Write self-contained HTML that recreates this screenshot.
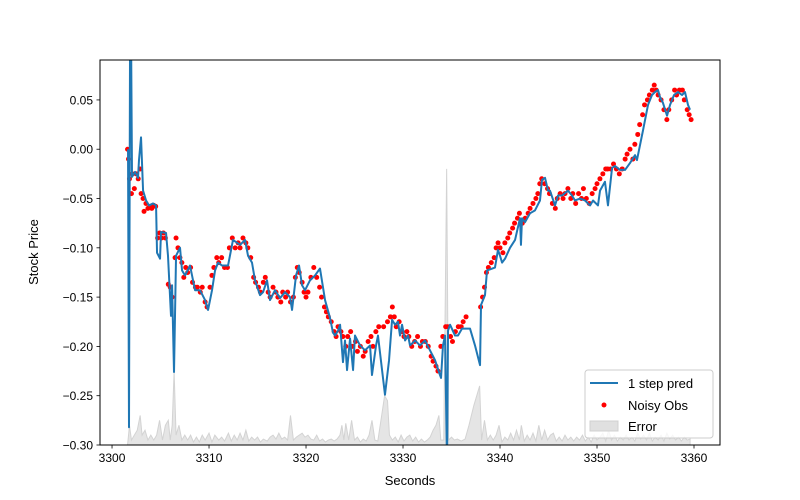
<!DOCTYPE html>
<html><head><meta charset="utf-8"><style>
body{margin:0;background:#fff;}
svg{display:block;font-family:"Liberation Sans","DejaVu Sans",sans-serif;}
</style></head><body>
<svg id="chart" width="800" height="500" viewBox="0 0 800 500">
<defs><clipPath id="clip"><rect x="100" y="60" width="620" height="385"/></clipPath></defs>
<rect x="0" y="0" width="800" height="500" fill="#fff"/>
<g id="plot" clip-path="url(#clip)"></g>
<rect x="100" y="60" width="620" height="385" fill="none" stroke="#000" stroke-width="1"/>
<g id="axes"></g>
<text x="410" y="485" font-size="13" text-anchor="middle">Seconds</text>
<text x="38" y="252" font-size="13" text-anchor="middle" transform="rotate(-90 38 252)">Stock Price</text>
<g>
<rect x="585" y="370" width="128" height="68" rx="3" fill="#fff" fill-opacity="0.8" stroke="#ccc"/>
<line x1="590" y1="383" x2="618" y2="383" stroke="#1f77b4" stroke-width="2"/>
<text x="628" y="388" font-size="13">1 step pred</text>
<circle cx="604" cy="405" r="2.5" fill="red"/>
<text x="628" y="410" font-size="13">Noisy Obs</text>
<rect x="590" y="421" width="28" height="10" fill="#e0e0e0" stroke="#d0d0d0"/>
<text x="628" y="431" font-size="13">Error</text>
</g>
</svg>
<script>
const xTicks=[3300,3310,3320,3330,3340,3350,3360];
const yTicks=[0.05,0.00,-0.05,-0.10,-0.15,-0.20,-0.25,-0.30];
const yTickLabels=["0.05","0.00","\u22120.05","\u22120.10","\u22120.15","\u22120.20","\u22120.25","\u22120.30"];
const predT=[3301.65,3301.75,3301.86,3301.96,3302.06,3302.37,3302.68,3302.78,3302.99,3303.20,3303.51,3303.81,3304.23,3304.54,3304.64,3304.95,3305.05,3305.57,3305.77,3306.08,3306.19,3306.39,3306.60,3307.01,3307.22,3307.53,3308.04,3308.56,3309.07,3309.59,3309.90,3310.31,3310.62,3310.93,3311.34,3311.96,3312.47,3313.20,3313.71,3314.02,3314.43,3314.74,3315.26,3315.57,3315.98,3316.29,3316.80,3317.32,3317.84,3318.35,3318.56,3318.97,3319.28,3319.59,3319.90,3320.41,3320.93,3321.44,3321.96,3322.47,3322.78,3322.99,3323.30,3323.51,3323.81,3324.02,3324.23,3324.54,3324.85,3325.05,3325.57,3326.08,3326.60,3326.80,3327.22,3327.42,3328.14,3328.56,3328.87,3329.18,3329.48,3329.69,3329.90,3330.21,3330.52,3330.72,3331.24,3331.75,3332.27,3332.78,3333.30,3333.81,3333.92,3334.12,3334.33,3334.54,3334.64,3334.85,3335.36,3335.67,3336.08,3336.91,3337.42,3337.94,3338.04,3338.45,3338.66,3339.48,3339.79,3340.00,3340.21,3340.52,3341.03,3341.55,3342.06,3342.16,3342.27,3342.58,3343.09,3343.61,3344.12,3344.33,3344.64,3344.95,3345.15,3345.67,3345.98,3346.39,3347.01,3347.42,3347.73,3348.25,3348.76,3349.28,3349.59,3350.10,3350.31,3350.82,3351.13,3351.55,3351.86,3352.37,3352.89,3353.40,3353.92,3354.12,3354.74,3355.26,3355.67,3355.98,3356.29,3356.49,3356.80,3357.22,3357.53,3357.94,3358.35,3358.76,3359.07,3359.38,3359.59];
const predV=[0.000,-0.282,0.12,0.12,-0.028,-0.023,-0.029,-0.011,0.012,-0.042,-0.052,-0.057,-0.055,-0.057,-0.105,-0.111,-0.084,-0.085,-0.108,-0.169,-0.138,-0.226,-0.108,-0.100,-0.123,-0.128,-0.118,-0.143,-0.143,-0.153,-0.163,-0.143,-0.123,-0.115,-0.118,-0.118,-0.092,-0.097,-0.092,-0.108,-0.115,-0.133,-0.148,-0.145,-0.133,-0.153,-0.143,-0.151,-0.145,-0.150,-0.163,-0.128,-0.118,-0.138,-0.143,-0.133,-0.128,-0.121,-0.153,-0.171,-0.186,-0.189,-0.184,-0.178,-0.216,-0.194,-0.224,-0.192,-0.224,-0.189,-0.199,-0.204,-0.199,-0.229,-0.199,-0.189,-0.249,-0.214,-0.173,-0.178,-0.175,-0.189,-0.178,-0.194,-0.189,-0.199,-0.194,-0.199,-0.194,-0.204,-0.214,-0.229,-0.232,-0.199,-0.189,-0.32,-0.184,-0.178,-0.189,-0.189,-0.182,-0.182,-0.199,-0.219,-0.158,-0.148,-0.123,-0.120,-0.102,-0.108,-0.115,-0.111,-0.100,-0.092,-0.070,-0.097,-0.070,-0.074,-0.065,-0.062,-0.052,-0.031,-0.029,-0.042,-0.042,-0.057,-0.047,-0.047,-0.042,-0.047,-0.052,-0.050,-0.052,-0.057,-0.052,-0.057,-0.042,-0.033,-0.057,-0.019,-0.017,-0.021,-0.021,-0.014,-0.006,-0.011,0.019,0.045,0.055,0.058,0.060,0.053,0.047,0.034,0.045,0.055,0.058,0.055,0.058,0.045,0.040];
const obsT=[3301.6,3301.7,3301.8,3302.0,3302.1,3302.3,3302.5,3302.7,3302.9,3303.0,3303.2,3303.3,3303.5,3303.7,3303.9,3304.1,3304.3,3304.5,3304.7,3304.9,3305.1,3305.3,3305.5,3305.8,3306.0,3306.2,3306.5,3306.6,3306.8,3307.0,3307.2,3307.4,3307.6,3307.8,3308.1,3308.3,3308.6,3308.8,3309.1,3309.3,3309.6,3309.8,3310.1,3310.3,3310.5,3310.8,3311.0,3311.3,3311.6,3311.9,3312.1,3312.4,3312.7,3313.0,3313.2,3313.5,3313.8,3314.0,3314.3,3314.6,3314.8,3315.1,3315.3,3315.6,3315.8,3316.1,3316.3,3316.6,3316.9,3317.1,3317.4,3317.6,3317.9,3318.1,3318.4,3318.7,3318.9,3319.1,3319.3,3319.6,3319.8,3320.0,3320.2,3320.5,3320.8,3321.1,3321.4,3321.6,3321.9,3322.1,3322.3,3322.6,3322.9,3323.1,3323.3,3323.6,3323.8,3324.1,3324.3,3324.6,3324.8,3325.1,3325.3,3325.6,3325.9,3326.1,3326.4,3326.7,3326.9,3327.2,3327.5,3328.0,3328.4,3328.7,3328.9,3329.1,3329.3,3329.6,3329.9,3330.1,3330.4,3330.6,3330.9,3331.2,3331.5,3331.8,3332.0,3332.3,3332.6,3332.9,3333.1,3333.4,3333.6,3333.9,3334.1,3334.4,3334.6,3334.9,3335.1,3335.4,3335.7,3336.0,3336.2,3336.5,3338.0,3338.2,3338.4,3338.6,3338.8,3339.1,3339.4,3339.6,3339.8,3340.0,3340.3,3340.5,3340.8,3341.0,3341.3,3341.5,3341.8,3342.0,3342.3,3342.6,3342.9,3343.1,3343.4,3343.7,3343.9,3344.1,3344.3,3344.6,3344.9,3345.1,3345.4,3345.7,3345.9,3346.2,3346.5,3346.7,3347.0,3347.3,3347.5,3347.8,3348.1,3348.4,3348.6,3348.9,3349.2,3349.5,3349.8,3350.0,3350.3,3350.6,3350.9,3351.1,3351.4,3351.7,3352.0,3352.3,3352.6,3352.9,3353.1,3353.4,3353.7,3353.9,3354.2,3354.4,3354.7,3354.9,3355.2,3355.4,3355.7,3355.9,3356.1,3356.3,3356.6,3356.9,3357.2,3357.4,3357.7,3358.0,3358.2,3358.5,3358.8,3359.0,3359.3,3359.5,3359.7];
const obsV=[0.000,-0.010,-0.03,-0.045,-0.025,-0.04,-0.025,-0.03,-0.02,-0.045,-0.05,-0.063,-0.055,-0.06,-0.058,-0.06,-0.057,-0.058,-0.09,-0.085,-0.09,-0.085,-0.09,-0.137,-0.14,-0.15,-0.11,-0.09,-0.1,-0.11,-0.115,-0.13,-0.12,-0.125,-0.12,-0.135,-0.14,-0.14,-0.145,-0.14,-0.155,-0.16,-0.14,-0.128,-0.12,-0.11,-0.115,-0.11,-0.12,-0.12,-0.1,-0.09,-0.1,-0.095,-0.1,-0.09,-0.095,-0.1,-0.11,-0.13,-0.135,-0.14,-0.145,-0.135,-0.13,-0.145,-0.15,-0.14,-0.145,-0.15,-0.155,-0.145,-0.15,-0.145,-0.155,-0.15,-0.13,-0.12,-0.125,-0.135,-0.145,-0.15,-0.145,-0.13,-0.12,-0.13,-0.14,-0.15,-0.16,-0.165,-0.17,-0.175,-0.185,-0.19,-0.18,-0.185,-0.19,-0.2,-0.19,-0.185,-0.2,-0.195,-0.205,-0.2,-0.21,-0.205,-0.195,-0.19,-0.2,-0.185,-0.18,-0.18,-0.175,-0.17,-0.16,-0.17,-0.18,-0.175,-0.185,-0.19,-0.185,-0.19,-0.2,-0.195,-0.19,-0.2,-0.195,-0.195,-0.2,-0.21,-0.215,-0.22,-0.225,-0.2,-0.19,-0.18,-0.18,-0.19,-0.195,-0.185,-0.18,-0.18,-0.175,-0.17,-0.16,-0.15,-0.14,-0.125,-0.12,-0.115,-0.11,-0.1,-0.095,-0.1,-0.105,-0.095,-0.09,-0.085,-0.08,-0.075,-0.07,-0.065,-0.075,-0.07,-0.065,-0.06,-0.055,-0.05,-0.045,-0.035,-0.03,-0.035,-0.04,-0.045,-0.055,-0.06,-0.05,-0.045,-0.05,-0.045,-0.04,-0.05,-0.045,-0.055,-0.045,-0.05,-0.04,-0.05,-0.055,-0.045,-0.04,-0.035,-0.03,-0.025,-0.02,-0.02,-0.02,-0.015,-0.02,-0.025,-0.02,-0.01,-0.005,0.0,-0.01,0.005,0.015,0.025,0.035,0.045,0.05,0.055,0.06,0.065,0.06,0.055,0.05,0.04,0.03,0.04,0.05,0.06,0.055,0.06,0.06,0.05,0.04,0.035,0.03];
const errT=[3301.6,3301.8,3302.0,3302.3,3302.6,3302.9,3303.1,3303.4,3303.7,3304.0,3304.3,3304.6,3304.9,3305.2,3305.5,3305.8,3306.0,3306.2,3306.4,3306.6,3306.9,3307.2,3307.5,3307.8,3308.1,3308.4,3308.7,3309.0,3309.3,3309.6,3310.0,3310.3,3310.6,3311.0,3311.3,3311.6,3312.0,3312.3,3312.6,3312.9,3313.2,3313.5,3313.8,3314.1,3314.4,3314.7,3315.0,3315.3,3315.6,3316.0,3316.3,3316.6,3316.9,3317.2,3317.5,3317.8,3318.1,3318.4,3318.7,3319.0,3319.3,3319.6,3319.9,3320.2,3320.5,3320.8,3321.1,3321.4,3321.7,3322.0,3322.3,3322.6,3322.9,3323.2,3323.5,3323.7,3323.9,3324.1,3324.4,3324.7,3325.0,3325.3,3325.6,3325.9,3326.2,3326.5,3326.8,3327.1,3327.4,3327.8,3328.1,3328.4,3328.6,3328.9,3329.2,3329.5,3329.8,3330.1,3330.4,3330.7,3331.0,3331.3,3331.6,3331.9,3332.2,3332.5,3332.8,3333.1,3333.4,3333.7,3333.9,3334.2,3334.5,3334.7,3335.0,3335.3,3335.6,3336.0,3336.4,3336.8,3337.3,3337.9,3338.1,3338.4,3338.7,3339.0,3339.3,3339.6,3339.9,3340.2,3340.5,3340.8,3341.1,3341.4,3341.7,3342.0,3342.2,3342.5,3342.8,3343.1,3343.4,3343.7,3344.0,3344.3,3344.6,3344.9,3345.2,3345.5,3345.8,3346.1,3346.4,3346.7,3347.0,3347.3,3347.6,3347.9,3348.2,3348.5,3348.8,3349.1,3349.4,3349.7,3350.0,3350.3,3350.6,3350.9,3351.2,3351.5,3351.8,3352.1,3352.4,3352.7,3353.0,3353.3,3353.6,3353.9,3354.2,3354.5,3354.8,3355.1,3355.4,3355.7,3356.0,3356.3,3356.6,3356.9,3357.2,3357.5,3357.8,3358.1,3358.4,3358.7,3359.0,3359.3,3359.6];
const errV=[0.0,0.02,0.005,0.01,0.015,0.03,0.01,0.015,0.005,0.01,0.005,0.01,0.025,0.005,0.02,0.025,0.005,0.02,0.075,0.01,0.02,0.005,0.01,0.005,0.01,0.003,0.008,0.003,0.01,0.005,0.012,0.003,0.01,0.005,0.008,0.004,0.012,0.004,0.01,0.005,0.012,0.005,0.015,0.004,0.008,0.005,0.008,0.003,0.006,0.004,0.008,0.01,0.006,0.012,0.006,0.008,0.005,0.03,0.005,0.008,0.01,0.012,0.008,0.01,0.006,0.005,0.01,0.004,0.006,0.003,0.005,0.006,0.004,0.006,0.01,0.02,0.005,0.022,0.005,0.025,0.005,0.008,0.003,0.006,0.004,0.01,0.025,0.005,0.004,0.03,0.05,0.045,0.01,0.005,0.008,0.003,0.01,0.004,0.008,0.01,0.004,0.008,0.003,0.006,0.003,0.005,0.008,0.015,0.02,0.03,0.005,0.005,0.28,0.005,0.008,0.005,0.006,0.004,0.006,0.02,0.04,0.06,0.005,0.025,0.005,0.01,0.005,0.01,0.02,0.003,0.008,0.005,0.012,0.005,0.015,0.005,0.02,0.004,0.01,0.005,0.012,0.004,0.02,0.005,0.015,0.005,0.01,0.012,0.004,0.008,0.004,0.01,0.005,0.008,0.004,0.008,0.005,0.01,0.004,0.008,0.003,0.01,0.005,0.008,0.012,0.004,0.015,0.005,0.01,0.004,0.008,0.005,0.01,0.005,0.008,0.004,0.012,0.006,0.01,0.005,0.012,0.004,0.008,0.005,0.01,0.004,0.012,0.006,0.01,0.005,0.008,0.004,0.008,0.005,0.006];

const X0=3298.76,X1=3362.68,Y0=-0.30,Y1=0.0905;
const L=100,R=720,T=60,B=445;
const sx=v=>L+(v-X0)/(X1-X0)*(R-L);
const sy=v=>B-(v-Y0)/(Y1-Y0)*(B-T);
const NS="http://www.w3.org/2000/svg";
const plot=document.getElementById('plot'), axes=document.getElementById('axes');
function mk(tag,attrs,parent){const e=document.createElementNS(NS,tag);for(const k in attrs)e.setAttribute(k,attrs[k]);parent.appendChild(e);return e;}

// error band
let d=`M${sx(errT[0])},${sy(Y0)}`;
errT.forEach((t,i)=>{d+=` L${sx(t).toFixed(2)},${sy(Y0+errV[i]).toFixed(2)}`;});
d+=` L${sx(errT[errT.length-1])},${sy(Y0)} Z`;
const band=mk('path',{d:d,fill:'#d3d3d3','fill-opacity':'0.6',stroke:'#d3d3d3','stroke-width':'1'},plot);



// prediction line
let pd='';
predT.forEach((t,i)=>{pd+=(i?' L':'M')+sx(t).toFixed(2)+','+sy(predV[i]).toFixed(2);});
const line=mk('path',{d:pd,fill:'none',stroke:'#1f77b4','stroke-width':'2','stroke-linejoin':'round'},plot);



// observations
obsT.forEach((t,i)=>{
  const c=mk('circle',{cx:sx(t).toFixed(2),cy:sy(obsV[i]).toFixed(2),r:'2.5',fill:'red'},plot);
  
  
});
// bring line above points like matplotlib order? keep line on top for visibility
plot.appendChild(line);

// x ticks
xTicks.forEach(v=>{
  const x=sx(v);
  const tk=mk('line',{x1:x,y1:B,x2:x,y2:B+3.5,stroke:'#000','stroke-width':'0.8'},axes);
  
  
  const tx=mk('text',{x:x,y:B+17,'font-size':'12','text-anchor':'middle'},axes);
  tx.textContent=v;
  
  
});
// y ticks
yTicks.forEach((v,i)=>{
  const y=sy(v);
  const tk=mk('line',{x1:L-3.5,y1:y,x2:L,y2:y,stroke:'#000','stroke-width':'0.8'},axes);
  
  
  const tx=mk('text',{x:L-7,y:y+4.5,'font-size':'12','text-anchor':'end'},axes);
  tx.textContent=yTickLabels[i];
  
  
});
</script>
</body></html>
